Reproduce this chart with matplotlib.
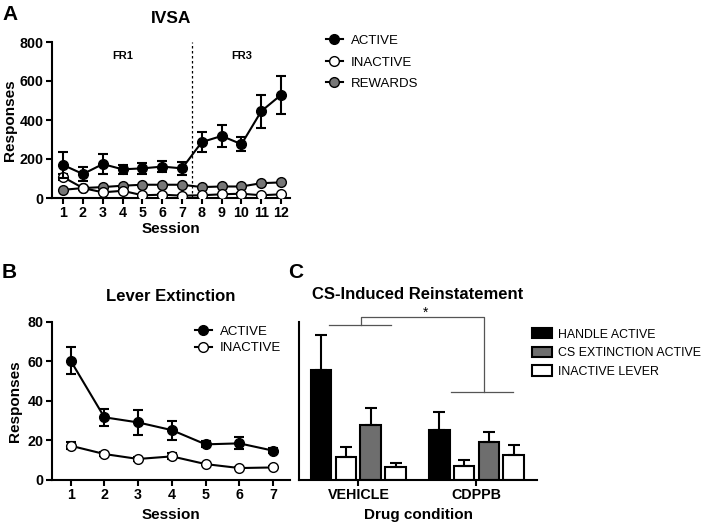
import matplotlib
matplotlib.use("Agg")
import matplotlib.pyplot as plt
from matplotlib.lines import Line2D
import numpy as np

plt.rcParams["font.family"] = ["Liberation Sans", "DejaVu Sans"]

# ── data ──────────────────────────────────────────────
ivsa_session = np.arange(1, 13)
ivsa_active = [169, 123, 174, 147, 152, 161, 152, 287, 318, 276, 445, 529]
ivsa_active_err = [68, 34, 51, 22, 29, 30, 34, 51, 57, 37, 84, 97]
ivsa_inactive = [107, 51, 29, 37, 14, 17, 12, 14, 19, 22, 14, 19]
ivsa_inactive_err = [15, 8, 5, 6, 3, 3, 2, 3, 3, 4, 3, 3]
ivsa_rewards = [42, 51, 56, 63, 68, 68, 68, 56, 59, 59, 76, 80]

ext_session = np.arange(1, 8)
ext_active = [60.3, 31.6, 29.0, 25.1, 17.9, 18.4, 14.7]
ext_active_err = [7.0, 4.2, 6.3, 4.8, 1.5, 3.0, 1.3]
ext_inactive = [17.2, 13.0, 10.5, 11.8, 7.9, 5.9, 6.2]
ext_inactive_err = [1.8, 0.8, 0.8, 1.5, 0.6, 0.5, 0.5]

conditions = ["VEHICLE", "CDPPB"]
handle_active = [55.7, 25.2]
handle_active_err = [17.7, 9.2]
inactive_a = [11.3, 6.8]
inactive_a_err = [5.1, 3.0]
cs_ext_active = [27.8, 19.1]
cs_ext_active_err = [8.5, 5.2]
inactive_b = [6.3, 12.4]
inactive_b_err = [2.0, 5.3]

BOLD = dict(fontweight="bold")
GREY = "#777777"
MS = 7

fig = plt.figure(figsize=(7.09, 5.26), dpi=100)


def style(ax):
    for s in ("top", "right"):
        ax.spines[s].set_visible(False)
    for s in ("left", "bottom"):
        ax.spines[s].set_linewidth(1.5)
    ax.tick_params(width=1.5, length=4, labelsize=10.3, pad=2)
    for lab in ax.get_xticklabels() + ax.get_yticklabels():
        lab.set_fontweight("bold")


def mk(fc, label):
    return Line2D([], [], color="black", lw=1.5, marker="o", ms=MS,
                  mfc=fc, mec="black", label=label)


# ── A: IVSA ────────────────────────────────────────────
axA = fig.add_axes([51.7 / 709, 1 - 198 / 526, 238.3 / 709, 156 / 526])
eb = dict(capsize=3.5, elinewidth=1.5, capthick=1.5, lw=1.5, ms=MS, color="black")
axA.errorbar(ivsa_session, ivsa_active, yerr=ivsa_active_err, marker="o",
             mfc="black", mec="black", zorder=5, **eb)
axA.errorbar(ivsa_session, ivsa_inactive, yerr=ivsa_inactive_err, marker="o",
             mfc="white", mec="black", zorder=4, **eb)
axA.plot(ivsa_session, ivsa_rewards, marker="o", ms=MS, lw=1.5, color="black",
         mfc=GREY, mec="black", zorder=3)
axA.axvline(7.5, color="black", lw=0.9, ls=(0, (2, 2)))
axA.text(4, 730, "FR1", ha="center", va="center", fontsize=8, **BOLD)
axA.text(10, 730, "FR3", ha="center", va="center", fontsize=8, **BOLD)
axA.set_xlim(0.42, 12.45)
axA.set_ylim(0, 800)
axA.set_xticks(ivsa_session)
axA.set_yticks([0, 200, 400, 600, 800])
axA.set_xlabel("Session", fontsize=11, labelpad=1, **BOLD)
axA.set_ylabel("Responses", fontsize=11, labelpad=2, **BOLD)
axA.set_title("IVSA", fontsize=12.5, pad=14, **BOLD)
style(axA)
axA.legend(handles=[mk("black", "ACTIVE"), mk("white", "INACTIVE"), mk(GREY, "REWARDS")],
           loc="upper left", bbox_to_anchor=(314 / 709, 1 - 23 / 526),
           bbox_transform=fig.transFigure, frameon=False, fontsize=9.5,
           handlelength=1.3, handletextpad=0.6, labelspacing=0.7)

# ── B: Lever Extinction ────────────────────────────────
axB = fig.add_axes([51.7 / 709, 1 - 479.7 / 526, 238.3 / 709, 158 / 526])
axB.errorbar(ext_session, ext_active, yerr=ext_active_err, marker="o",
             mfc="black", mec="black", zorder=5, **eb)
axB.errorbar(ext_session, ext_inactive, yerr=ext_inactive_err, marker="o",
             mfc="white", mec="black", zorder=4, **eb)
axB.set_xlim(0.44, 7.5)
axB.set_ylim(0, 80)
axB.set_xticks(ext_session)
axB.set_yticks([0, 20, 40, 60, 80])
axB.set_xlabel("Session", fontsize=11, labelpad=4, **BOLD)
axB.set_ylabel("Responses", fontsize=11, labelpad=4, **BOLD)
axB.set_title("Lever Extinction", fontsize=12, pad=15, **BOLD)
style(axB)
axB.legend(handles=[mk("black", "ACTIVE"), mk("white", "INACTIVE")],
           loc="upper left", bbox_to_anchor=(183 / 709, 1 - 314 / 526),
           bbox_transform=fig.transFigure, frameon=False, fontsize=9.5,
           handlelength=1.3, handletextpad=0.6, labelspacing=0.3)

# ── C: CS-Induced Reinstatement ────────────────────────
axC = fig.add_axes([299.3 / 709, 1 - 479.7 / 526, 237.4 / 709, 158 / 526])
x = np.arange(len(conditions))
step, w = 0.21, 0.175
series = [
    (handle_active, handle_active_err, "black", "HANDLE ACTIVE"),
    (inactive_a, inactive_a_err, "white", "INACTIVE LEVER"),
    (cs_ext_active, cs_ext_active_err, "#6e6e6e", "CS EXTINCTION ACTIVE"),
    (inactive_b, inactive_b_err, "white", None),
]
handles = {}
for i, (vals, err, fc, lab) in enumerate(series):
    bars = axC.bar(x + (i - 1.5) * step, vals, w, color=fc, edgecolor="black",
                   linewidth=1.5, yerr=[np.zeros(len(err)), err],
                   error_kw=dict(elinewidth=1.5, capsize=4, capthick=1.5, ecolor="black"))
    if lab:
        handles[lab] = bars
axC.set_xlim(-0.5, 1.51)
axC.set_ylim(0, 80)
axC.set_xticks(x)
axC.set_xticklabels(conditions)
axC.set_yticks([])
axC.set_xlabel("Drug condition", fontsize=11, labelpad=4, **BOLD)
axC.set_title("CS-Induced Reinstatement", fontsize=12, pad=16, **BOLD)
style(axC)

# significance bracket
bk = dict(color="#555555", lw=0.9, clip_on=False)
axC.plot([-0.247, 0.275], [78.3, 78.3], **bk)
axC.plot([0.019, 0.019, 1.066, 1.066], [78.3, 82.2, 82.2, 44.6], **bk)
axC.plot([0.784, 1.307], [44.6, 44.6], **bk)
axC.text(0.572, 84.5, "*", ha="center", va="center", fontsize=10, clip_on=False)

order = ["HANDLE ACTIVE", "CS EXTINCTION ACTIVE", "INACTIVE LEVER"]
axC.legend([handles[k] for k in order], order, loc="upper left",
           bbox_to_anchor=(521 / 709, 1 - 317 / 526), bbox_transform=fig.transFigure,
           frameon=False, fontsize=8.9, handlelength=1.6, handleheight=0.9,
           handletextpad=0.5, labelspacing=0.5)

# panel letters
fig.text(2 / 709, 1 - 15 / 526, "A", fontsize=15, va="center", **BOLD)
fig.text(2 / 709, 1 - 273 / 526, "B", fontsize=15, va="center", **BOLD)
fig.text(288 / 709, 1 - 273 / 526, "C", fontsize=15, va="center", **BOLD)

fig.savefig("out.png", dpi=100, facecolor="white")
